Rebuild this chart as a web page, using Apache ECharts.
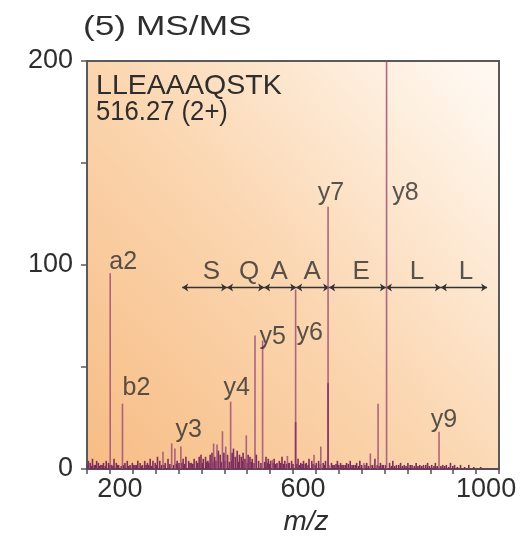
<!DOCTYPE html>
<html>
<head>
<meta charset="utf-8">
<script src="https://cdn.jsdelivr.net/npm/echarts@6/dist/echarts.min.js"></script>
<style>
  html, body { margin: 0; padding: 0; background: #fff; }
  #chart { width: 529px; height: 546px; }
</style>
</head>
<body>
<div id="chart"></div>
<script>
// fragment peaks (m/z, relative intensity); y8 runs off the top of the scale
const peakMz = [200.7, 227.5, 316, 335, 342, 355, 426.6, 434, 445.9, 453, 463.8, 498, 517, 533.6, 555, 587.8, 605.7, 646, 660.7, 676.6, 755, 769, 785.8, 804.4, 919];
const peakIntensity = [96, 32, 8.5, 12.6, 10, 11, 12.5, 12, 18.5, 11, 33, 16.5, 65.5, 63, 4.5, 6.4, 88, 7, 11, 128.6, 3, 7.6, 32, 230, 18.3];

// darker lower parts under y6 / y7
const shoulderMz = [605.7, 676.6];
const shoulderIntensity = [23, 42];

// baseline noise
const noiseMz = [
  153, 157, 162, 166, 171, 175, 180, 186, 192, 197,
  204, 209, 214, 219, 233, 238, 244, 249, 255, 261,
  266, 271, 276, 282, 288, 294, 299, 304, 309, 321,
  327, 347, 351, 360, 366, 372, 378, 384, 389, 395,
  399, 404, 409, 414, 419, 423, 429, 437, 441, 449,
  457, 467, 470, 474, 478, 483, 487, 491, 495, 502,
  506, 511, 520, 525, 541, 546, 551, 559, 565, 570,
  576, 582, 592, 597, 611, 617, 623, 629, 635, 641,
  651, 656, 666, 671, 684, 690, 697, 704, 710, 717,
  725, 732, 739, 746, 761, 774, 779, 791, 797, 811,
  818, 826, 835, 843, 851, 860, 869, 877, 885, 894,
  903, 911, 927, 935, 944, 953, 966, 984
];
const noiseIntensity = [
  4, 3, 5, 2, 4, 3, 2, 3, 4, 3,
  2, 5, 3, 2, 3, 4, 2, 3, 2, 4,
  3, 2, 4, 3, 5, 4, 3, 6, 4, 3,
  5, 4, 3, 5, 6, 4, 3, 5, 4, 6,
  7, 5, 6, 4, 7, 8, 6, 9, 7, 8,
  7, 8, 10, 6, 9, 7, 6, 8, 5, 7,
  6, 5, 7, 4, 6, 5, 4, 5, 3, 4,
  6, 4, 3, 4, 5, 3, 4, 3, 5, 4,
  3, 4, 3, 4, 3, 2, 4, 3, 2, 3,
  4, 2, 3, 4, 3, 2, 5, 3, 2, 3,
  4, 2, 3, 2, 3, 2, 3, 2, 2, 3,
  2, 3, 2, 2, 3, 2, 2, 2
];

// low baseline fill between the noise spikes
const baseMz = [
  150, 160, 168, 178, 183, 190, 200, 207, 216, 225, 230, 241, 252, 258, 269, 279, 285, 291, 302, 313,
  318, 331, 339, 345, 357, 363, 375, 381, 392, 402, 411, 416, 426, 432, 444, 452, 461, 465, 481, 489,
  499, 509, 515, 530, 538, 544, 549, 556, 562, 573, 579, 586, 590, 600, 608, 614, 620, 627, 633, 644,
  648, 660, 669, 678, 687, 694, 700, 707, 714, 721, 729, 736, 743, 750, 757, 765, 770, 784, 788, 795,
  802, 815, 822, 831, 839, 847, 856, 865, 873, 881, 890, 898, 908, 915, 923, 931, 940, 949, 959, 975, 995, 1010
];
const baseIntensity = [
  2, 1.5, 2, 1.5, 2, 1.5, 2, 1.5, 2, 1.5, 2, 1.5, 2, 2, 1.5, 2, 2, 1.5, 2, 2,
  2, 2.5, 2, 2.5, 3, 2.5, 3, 2.5, 3, 3, 3.5, 3, 3.5, 4, 3.5, 4, 3.5, 4, 3.5, 4,
  3, 3.5, 3, 3, 3.5, 3, 2.5, 3, 2.5, 3, 2.5, 2.5, 3, 2.5, 2.5, 2, 2.5, 2.5, 2, 2.5,
  2, 2.5, 2, 2, 2, 2.5, 2, 2, 2, 2.5, 2, 2, 1.5, 2, 2, 1.5, 2, 2, 1.5, 2,
  2, 1.5, 1.5, 2, 1.5, 1.5, 2, 1.5, 1.5, 1.5, 2, 1.5, 1.5, 1.5, 1.5, 1.5, 1, 1.5, 1, 1, 1, 1
];

// labelled ions
const ionNames = ["a2", "b2", "y3", "y4", "y5", "y6", "y7", "y8", "y9"];
const ionMz = [200.7, 227.5, 335, 463.8, 533.6, 605.7, 676.6, 804.4, 919];
const ionIntensity = [96, 32, 12.6, 33, 63, 88, 128.6, 230, 18.3];

// sequence ladder read from the y-ion series
const seqBounds = [358, 456, 537, 607, 679, 803, 923, 1024];
const seqLetters = ["S", "Q", "A", "A", "E", "L", "L"];
const seqLetterMz = [422, 504, 570, 642, 749, 871, 978];

const xTickLabels = [200, 600, 1000];
const yTickLabels = [0, 100, 200];

const FONT = "Liberation Sans";
const TEXT = "#2e2e2e";
const Y_MAX = 200;

// label offsets (px) from each ion peak top
const ionLabelOffset = {
  a2: [13, -11], b2: [14, -16], y3: [17, -13], y4: [6, -14], y5: [10, -3],
  y6: [14, 44], y7: [3, -14], y8: [19, 132], y9: [5, -12]
};

const chart = echarts.init(document.getElementById("chart"), null, { renderer: "canvas" });

const barData = [];
baseMz.forEach((mz, i) => {
  barData.push({ value: [mz, baseIntensity[i]], itemStyle: { color: "#7a2a5b" } });
});
peakMz.forEach((mz, i) => {
  barData.push({ value: [mz, peakIntensity[i]], itemStyle: { color: "rgba(160, 80, 120, 0.85)" } });
});
shoulderMz.forEach((mz, i) => {
  barData.push({ value: [mz, shoulderIntensity[i]], itemStyle: { color: "#8a3568" } });
});
noiseMz.forEach((mz, i) => {
  barData.push({ value: [mz, noiseIntensity[i]], itemStyle: { color: "#7d2d5e" } });
});

function textBlock(text, x, y, size, scaleX) {
  return {
    type: "text",
    x: x,
    y: y,
    scaleX: scaleX,
    style: {
      text: text,
      font: size + "px \"" + FONT + "\"",
      fill: TEXT,
      verticalAlign: "middle",
      textVerticalAlign: "middle"
    }
  };
}

const option = {
  animation: false,
  backgroundColor: "#ffffff",
  textStyle: { fontFamily: FONT },
  grid: {
    left: 87,
    right: 30,
    top: 61,
    bottom: 77,
    show: true,
    borderColor: "#5a5a5a",
    borderWidth: 2,
    backgroundColor: {
      type: "linear",
      x: 0, y: 1, x2: 1, y2: 0.1,
      colorStops: [
        { offset: 0, color: "#f7bc84" },
        { offset: 0.5, color: "#fbd6b0" },
        { offset: 1, color: "#fff8f0" }
      ]
    }
  },
  xAxis: {
    type: "value",
    min: 150,
    max: 1050,
    interval: 50,
    name: "m/z",
    nameLocation: "middle",
    nameGap: 38,
    nameTextStyle: {
      fontFamily: FONT,
      fontStyle: "italic",
      fontSize: 28,
      color: TEXT,
      padding: [0, 0, 0, 26]
    },
    axisLine: { show: true, lineStyle: { color: "#5a4a55", width: 2 } },
    axisTick: { show: true, length: 5, inside: false, lineStyle: { color: "#5a4a55", width: 1.5 } },
    axisLabel: {
      fontFamily: FONT,
      fontSize: 27,
      color: TEXT,
      margin: 7,
      padding: [0, 0, 0, 20],
      formatter: (v) => (xTickLabels.includes(v) ? String(v) : "")
    },
    splitLine: { show: false }
  },
  yAxis: {
    type: "value",
    min: 0,
    max: Y_MAX,
    interval: 50,
    axisLine: { show: true, lineStyle: { color: "#5a5a5a", width: 2 } },
    axisTick: { show: true, length: 6, lineStyle: { color: "#5a5a5a", width: 1.5 } },
    axisLabel: {
      fontFamily: FONT,
      fontSize: 27,
      color: TEXT,
      margin: 14,
      formatter: (v) => (yTickLabels.includes(v) ? String(v) : "")
    },
    splitLine: { show: false }
  },
  series: [
    {
      type: "bar",
      data: barData,
      barWidth: 1.6,
      clip: true,
      silent: true
    },
    {
      type: "lines",
      coordinateSystem: "cartesian2d",
      symbol: ["arrow", "arrow"],
      symbolSize: 6,
      lineStyle: { color: "#333333", width: 1.3, opacity: 1 },
      data: seqBounds.slice(0, -1).map((b, i) => ({ coords: [[b, 89], [seqBounds[i + 1], 89]] })),
      silent: true
    },
    {
      type: "scatter",
      symbolSize: 1,
      itemStyle: { color: "transparent" },
      data: seqLetters.map((s, i) => ({ value: [seqLetterMz[i], 96.5], name: s })),
      label: {
        show: true,
        position: "inside",
        formatter: (p) => p.name,
        fontFamily: FONT,
        fontSize: 26,
        color: TEXT
      },
      silent: true
    },
    {
      type: "scatter",
      symbolSize: 1,
      itemStyle: { color: "transparent" },
      data: ionNames.map((n, i) => ({
        value: [ionMz[i], Math.min(ionIntensity[i], Y_MAX)],
        name: n,
        label: { offset: ionLabelOffset[n] }
      })),
      label: {
        show: true,
        position: "inside",
        formatter: (p) => p.name,
        fontFamily: FONT,
        fontSize: 25,
        color: TEXT
      },
      silent: true
    }
  ],
  graphic: [
    textBlock("(5) MS/MS", 83, 27, 28, 1.26),
    textBlock("LLEAAAQSTK", 96, 86, 28, 1.02),
    textBlock("516.27 (2+)", 96, 113, 27, 0.95)
  ]
};

chart.setOption(option);
</script>
</body>
</html>
